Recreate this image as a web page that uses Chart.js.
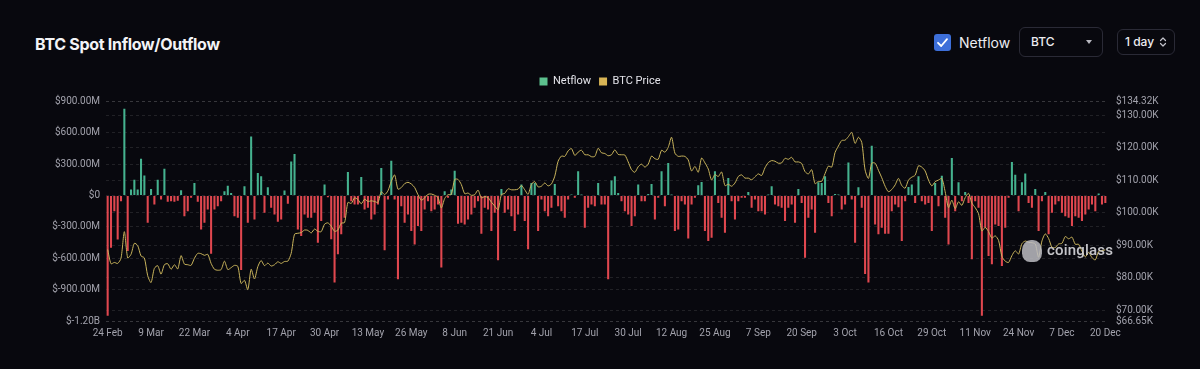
<!DOCTYPE html>
<html><head><meta charset="utf-8">
<script src="https://cdn.jsdelivr.net/npm/chart.js@4.4.1/dist/chart.umd.min.js"></script>
<style>
*{box-sizing:border-box}
html,body{margin:0;padding:0;background:#08080e;}
body{width:1200px;height:369px;position:relative;overflow:hidden;font-family:Inter,"Noto Sans",sans-serif;color:#e8e8ee}
#title{position:absolute;left:35px;top:34px;font-size:16px;font-weight:700;letter-spacing:-0.3px;color:#f3f3f6;line-height:20px;white-space:nowrap}
#chk{position:absolute;left:934px;top:34px;width:17px;height:17px;border-radius:3px;background:#3d6fd9}
#chk svg{position:absolute;left:0;top:0}
#nf{position:absolute;left:959px;top:34px;font-size:14px;line-height:18px;color:#ededf2}
#sel{position:absolute;left:1019px;top:27px;width:84px;height:30px;border:1px solid #2a2a36;border-radius:6px}
#sel span{position:absolute;left:11px;top:6px;font-size:12px;line-height:16px;font-weight:500;color:#ececf0}
#caret{position:absolute;left:66px;top:12px;width:0;height:0;border-left:3.5px solid transparent;border-right:3.5px solid transparent;border-top:4px solid #b8b8c0}
#per{position:absolute;left:1117px;top:29px;width:58px;height:26px;border:1px solid #2a2a36;border-radius:6px}
#per span{position:absolute;left:7px;top:4px;font-size:12px;line-height:16px;font-weight:500;color:#ececf0}
#per svg{position:absolute;left:41px;top:6px}
#wrap{position:absolute;left:0;top:60px;width:1200px;height:290px}
#wm{position:absolute;left:1022px;top:238px;height:26px;pointer-events:none;opacity:0.85}
#wm .logo{position:absolute;left:0;top:2px;width:20px;height:22px;border-radius:45% 45% 40% 40%;background:#bdbdc2}
#wm .txt{position:absolute;left:25px;top:2px;font-size:15px;line-height:20px;font-weight:500;color:#e6e6ea;letter-spacing:0.2px;font-family:Roboto,Inter,sans-serif}
</style></head>
<body>
<div id="title">BTC Spot Inflow/Outflow</div>
<div id="chk"><svg width="17" height="17" viewBox="0 0 17 17"><path d="M4 8.8 L7.2 12 L13 5.2" fill="none" stroke="#fff" stroke-width="1.8" stroke-linecap="round" stroke-linejoin="round"/></svg></div>
<div id="nf">Netflow</div>
<div id="sel"><span>BTC</span><div id="caret"></div></div>
<div id="per"><span>1 day</span><svg width="8" height="12" viewBox="0 0 8 12"><path d="M1.5 4.5 L4 2 L6.5 4.5 M1.5 7.5 L4 10 L6.5 7.5" fill="none" stroke="#c4c4cc" stroke-width="1.2" stroke-linecap="round" stroke-linejoin="round"/></svg></div>
<div id="wrap"><canvas id="c" width="1200" height="290"></canvas></div>
<div id="wm"><div class="logo"></div><div class="txt">coinglass</div></div>
<script>
const MONTHS=['Jan','Feb','Mar','Apr','May','Jun','Jul','Aug','Sep','Oct','Nov','Dec'];
const startDate=[2025,1,24];
const dayCount=300;
const categories=[];
(function(){const d=new Date(Date.UTC(startDate[0],startDate[1],startDate[2]));for(let i=0;i<dayCount;i++){categories.push(d.getUTCDate()+' '+MONTHS[d.getUTCMonth()]);d.setUTCDate(d.getUTCDate()+1);}})();

const xTickLabels=['24 Feb','9 Mar','22 Mar','4 Apr','17 Apr','30 Apr','13 May','26 May','8 Jun','21 Jun','4 Jul','17 Jul','30 Jul','12 Aug','25 Aug','7 Sep','20 Sep','3 Oct','16 Oct','29 Oct','11 Nov','24 Nov','7 Dec','20 Dec'];

// Netflow in millions USD
const netflowM=[
-1150,-500,-150,-420,-55,830,-530,57,152,57,
352,191,-260,63,-86,152,-38,257,-60,-55,
-60,-50,51,-197,-150,-20,121,-60,-324,-260,
-133,-556,-133,-102,-54,41,95,25,-197,-213,
-711,89,-260,565,-229,216,184,-165,79,-117,
-181,-251,-229,48,-79,327,397,-324,-387,-181,
-213,-213,-165,-451,-244,105,-15,-419,-832,-562,
-371,-213,225,-54,-86,-86,178,-133,-117,-229,
-181,-86,263,-524,-38,333,-38,-800,-102,-260,
-181,-340,-467,-292,-340,-133,-54,-149,-133,-86,
-689,41,-22,57,238,-270,-260,-276,-229,-181,
-117,-54,-365,-117,-133,-340,-165,-619,63,-165,
-133,-197,-340,-181,105,-244,-514,121,121,-340,
-38,-149,-197,-117,111,-102,-149,-213,-38,10,
-22,232,10,-308,-117,-86,-102,121,-86,-86,
-800,143,184,25,-54,-149,-181,-292,-197,105,
-54,-54,16,111,-229,-22,232,-102,311,10,
-340,-324,-54,-86,-410,-86,-22,98,130,-340,
-435,-403,232,-70,-213,-356,168,-54,-229,-54,
-22,-22,35,-117,-38,-149,-149,-181,10,89,
-86,-102,-117,-244,-117,-86,-260,63,-70,-594,
-213,-133,-356,127,121,184,-70,-197,16,10,
-133,-86,317,-38,-451,79,-117,-750,-832,476,
-276,-371,-308,-365,-365,-149,-86,-111,-435,-54,
83,105,-70,184,-54,-86,-70,-340,121,-102,
190,-213,-467,359,-149,127,-54,35,-70,-610,
-54,-117,-1150,-308,-578,-657,-276,-292,-673,-308,
-22,320,200,-149,127,210,-70,-117,63,-340,
-54,35,-371,-165,-86,-54,-165,-197,-213,-292,
-197,-213,-244,-181,-133,-86,-149,19,-86,-70];

// BTC price in thousands USD
const priceK=[
88.7,84.3,84.7,84.4,86.0,94.2,86.1,87.2,90.6,89.9,
86.7,86.1,80.6,78.5,82.9,83.7,81.1,84.0,84.3,82.6,
84.0,82.7,86.8,84.2,84.0,83.8,86.0,87.5,87.4,86.9,
87.2,84.4,82.6,82.3,82.5,85.1,82.5,83.1,83.8,83.5,
78.2,79.2,76.3,82.6,79.6,83.4,85.3,83.7,84.5,83.6,
84.0,84.9,84.4,85.0,85.1,87.5,93.4,93.7,93.9,94.7,
94.6,93.8,95.0,94.3,94.2,96.5,96.9,95.9,94.3,94.7,
96.8,97.0,103.2,102.9,104.6,104.1,102.8,104.2,103.5,103.7,
103.5,103.2,106.5,105.6,106.8,109.7,111.7,107.3,107.8,109.0,
109.4,108.9,107.8,105.6,103.9,104.6,105.7,105.8,105.4,104.7,
101.5,104.4,105.6,105.7,110.3,110.3,108.7,105.9,106.1,105.4,
105.6,107.0,104.6,105.0,104.7,103.3,102.1,100.9,105.6,106.0,
107.4,107.1,107.1,107.3,108.4,107.1,105.7,108.8,109.6,108.0,
108.2,109.2,108.3,108.9,111.3,115.9,117.5,117.4,119.1,119.8,
117.7,118.7,119.3,117.9,117.9,117.3,117.4,119.9,118.5,118.3,
117.6,117.9,119.4,118.0,117.9,117.8,115.7,113.3,112.5,114.2,
115.0,114.1,115.0,117.5,116.7,116.5,119.3,118.7,120.2,123.3,
118.4,117.4,117.5,117.4,116.3,112.9,114.3,112.5,116.9,115.4,
113.5,110.1,111.8,111.2,112.6,108.4,108.8,108.2,109.2,111.2,
111.7,110.7,110.7,110.2,111.1,112.0,111.5,113.9,115.5,116.1,
115.9,115.3,115.4,116.8,116.5,117.1,115.7,115.7,115.2,112.7,
112.0,113.3,109.0,109.7,109.7,112.1,114.4,114.1,118.6,120.6,
122.3,122.4,123.5,124.8,121.4,123.3,121.7,113.2,110.6,115.3,
115.3,113.1,110.8,108.2,106.5,107.2,108.6,110.6,108.4,107.6,
110.1,111.0,111.6,114.5,114.1,112.9,110.1,108.3,109.6,110.1,
110.6,106.5,101.6,103.9,101.3,103.4,102.3,104.7,106.0,103.0,
101.6,99.7,94.4,95.5,94.2,92.2,92.9,91.5,86.6,85.1,
84.7,86.8,88.3,87.3,90.5,91.3,90.9,90.8,90.4,86.3,
91.3,93.5,92.1,89.4,89.3,90.4,90.6,92.7,92.0,92.5,
90.3,90.3,88.2,86.4,87.8,86.2,85.5,88.1,88.3,88.6];

const leftTicks=[-1200,-900,-600,-300,0,300,600,900];
const rightTicks=[66.65,70,80,90,100,110,120,130,134.32];

const GREEN='#45b28f', RED='#e0474f', LINE='#c9b45c', LEG_G='#5cc08e', LEG_Y='#d8b455';
const TICK_COL='#a2a2ac';
const GRID_COL='rgba(255,255,255,0.10)';

function fmtM(v){ if(v===0) return '$0'; if(Math.abs(v)>=1000) return '$'+(v/1000).toFixed(2)+'B'; return '$'+v.toFixed(2)+'M'; }
function fmtK(v){ return '$'+v.toFixed(2)+'K'; }

const legendSpacer={id:'legendSpacer',beforeInit(chart){const l=chart.legend; if(!l) return; const orig=l.fit; l.fit=function(){orig.call(this); this.height=33.5;};}};

new Chart(document.getElementById('c'),{
  type:'bar',
  data:{labels:categories,datasets:[
    {type:'bar',label:'Netflow',data:netflowM,yAxisID:'y',order:2,
     backgroundColor:ctx=>(ctx.raw!==undefined&&ctx.raw<0)?RED:GREEN,
     borderWidth:0,barPercentage:0.62,categoryPercentage:1},
    {type:'line',label:'BTC Price',data:priceK,yAxisID:'y1',order:1,
     borderColor:LINE,backgroundColor:LEG_Y,borderWidth:1,pointRadius:0,tension:0.25,fill:false}
  ]},
  options:{
    responsive:false,animation:false,
    layout:{padding:{top:8,bottom:0,left:0,right:0}},
    plugins:{
      legend:{display:true,labels:{color:'#e4e4ea',font:{size:11,family:'Roboto'},boxWidth:8,boxHeight:8,padding:8,
        sort:(a,b)=>a.datasetIndex-b.datasetIndex,
        generateLabels:function(ch){const items=Chart.defaults.plugins.legend.labels.generateLabels(ch);
          items.forEach(it=>{if(it.datasetIndex===0){it.fillStyle=LEG_G;it.strokeStyle=LEG_G;it.lineWidth=0;}else{it.fillStyle=LEG_Y;it.strokeStyle=LEG_Y;it.lineWidth=0;}});return items;}}},
      tooltip:{enabled:false}
    },
    scales:{
      x:{type:'category',offset:true,grid:{display:false,drawTicks:false},border:{display:false},
         afterFit:s=>{s.height=29;},
         ticks:{autoSkip:false,maxRotation:0,minRotation:0,color:TICK_COL,font:{size:10,family:'Roboto'},padding:6,
           callback:function(v,i){const l=categories[i];return xTickLabels.includes(l)?l:'';}}},
      y:{type:'linear',position:'left',min:-1200,max:900,
         afterBuildTicks:s=>{s.ticks=leftTicks.map(v=>({value:v}));},
         afterFit:s=>{s.width=106;},
         ticks:{autoSkip:false,color:TICK_COL,font:{size:10,family:'Roboto'},padding:6,callback:v=>fmtM(v)},
         grid:{color:GRID_COL,drawTicks:false,lineWidth:1},
         border:{display:false,dash:[3,3]}},
      y1:{type:'linear',position:'right',min:66.65,max:134.32,
         afterBuildTicks:s=>{s.ticks=rightTicks.map(v=>({value:v}));},
         afterFit:s=>{s.width=93;},
         ticks:{autoSkip:false,color:TICK_COL,font:{size:10,family:'Roboto'},padding:9,callback:v=>fmtK(v)},
         grid:{color:GRID_COL,drawTicks:false,lineWidth:1},
         border:{display:false,dash:[3,3]}}
    }
  },
  plugins:[legendSpacer]
});
</script>
</body></html>
